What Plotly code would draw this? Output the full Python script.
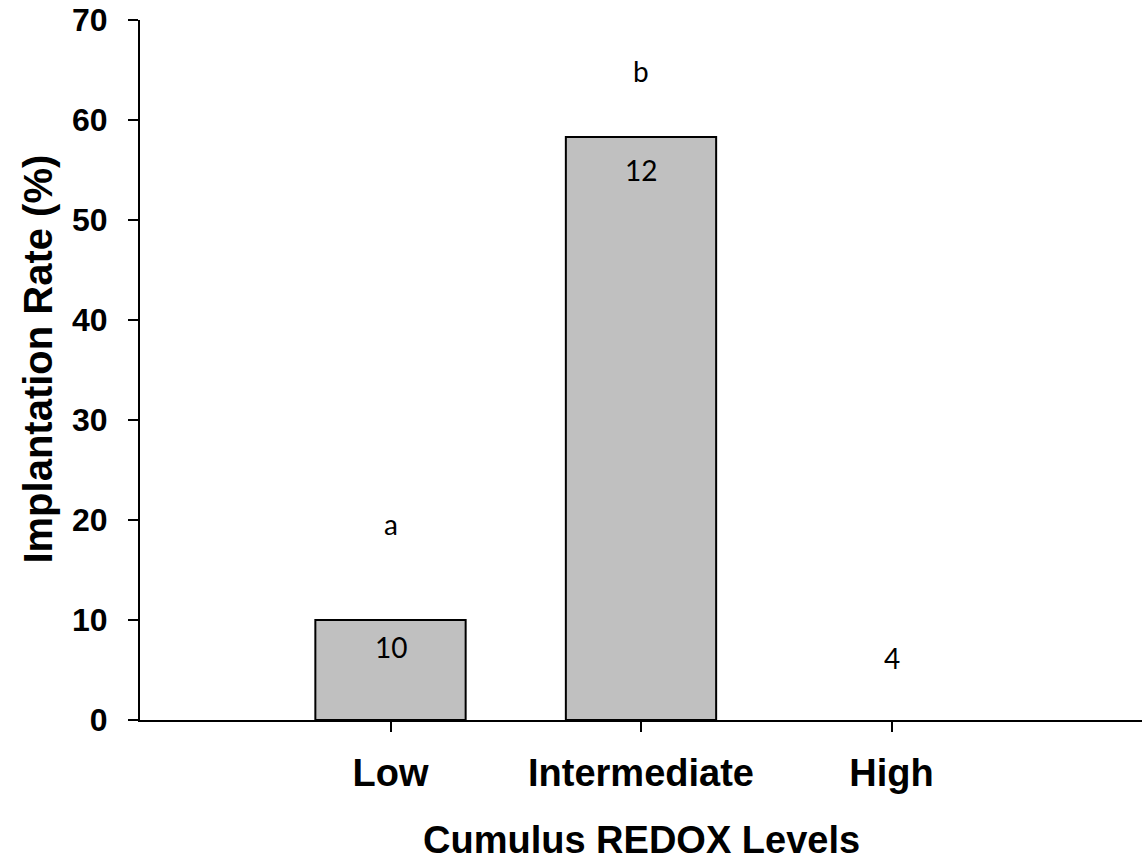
import plotly.graph_objects as go

# Implantation rate by cumulus REDOX level
categories = ["Low", "Intermediate", "High"]
implantation_rate = [10.0, 58.3, 0.0]
n_labels = ["10", "12", "4"]
n_label_y = [7.3, 55.0, 6.2]
sig_letters = ["a", "b", ""]
sig_letter_y = [19.6, 64.9, None]

y_ticks = [0, 10, 20, 30, 40, 50, 60, 70]

fig = go.Figure()
fig.add_trace(go.Bar(
    x=categories,
    y=implantation_rate,
    width=0.6,
    marker=dict(color="#C0C0C0",
                line=dict(color="black",
                          width=[2 if v > 0 else 0 for v in implantation_rate])),
    showlegend=False,
    hoverinfo="x+y",
))

text_font = dict(family="Lato, Calibri, sans-serif", size=28, color="black")
for cat, lab, ly in zip(categories, n_labels, n_label_y):
    fig.add_annotation(x=cat, y=ly, text=lab, showarrow=False,
                       font=text_font, xanchor="center", yanchor="middle")
for cat, let, ly in zip(categories, sig_letters, sig_letter_y):
    if let and ly is not None:
        fig.add_annotation(x=cat, y=ly, text=let, showarrow=False,
                           font=text_font, xanchor="center", yanchor="middle")

bold = dict(family="Liberation Sans, Arial, sans-serif", color="black", weight="bold")

# axis titles
fig.add_annotation(xref="paper", yref="paper", x=0.5, y=-0.171,
                   text="Cumulus REDOX Levels", showarrow=False,
                   font=dict(bold, size=38), xanchor="center", yanchor="middle")
fig.add_annotation(xref="paper", yref="paper", x=-0.102, y=0.516,
                   text="Implantation Rate (%)", showarrow=False, textangle=-90,
                   font=dict(bold, size=40), xanchor="center", yanchor="middle")

fig.update_layout(
    width=1144, height=864,
    margin=dict(l=140, r=2, t=20, b=144),
    paper_bgcolor="white", plot_bgcolor="white",
    xaxis=dict(
        type="category", range=[-1.0, 3.0],
        showline=True, linecolor="black", linewidth=2,
        ticks="outside", ticklen=10, tickwidth=1.5, tickcolor="black",
        tickfont=dict(bold, size=38), ticklabelstandoff=8,
        showgrid=False, zeroline=False,
    ),
    yaxis=dict(
        range=[0, 70], tickvals=y_ticks,
        showline=True, linecolor="black", linewidth=2,
        ticks="outside", ticklen=10, tickwidth=2, tickcolor="black",
        tickfont=dict(bold, size=32), ticklabelstandoff=14,
        showgrid=False, zeroline=False,
    ),
)

fig.write_html("out.html")
